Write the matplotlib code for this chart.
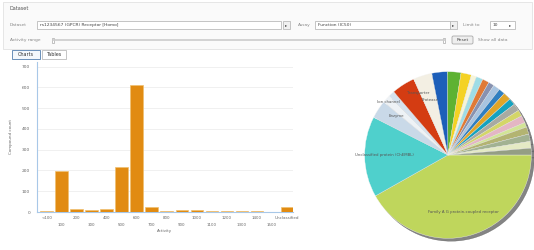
import matplotlib
matplotlib.use("Agg")
import matplotlib.pyplot as plt
from matplotlib.patches import Rectangle, FancyBboxPatch

# ---------------- data ----------------
bar_categories = ['<100', '100', '200', '300', '400', '500', '600', '700', '800',
                  '900', '1000', '1100', '1200', '1300', '1400', '1500', 'Unclassified']
bar_values = [5, 195, 15, 8, 13, 218, 613, 25, 5, 12, 8, 6, 3, 3, 3, 2, 25]
y_ticks = [0, 100, 200, 300, 400, 500, 600, 700]

pie_labels = ['Family A G protein-coupled receptor', 'Unclassified protein (ChEMBL)',
              'Enzyme', 'Ion channel', 'Transporter', 'Kinase', 'Protease',
              'Nuclear receptor', 'Cytochrome P450', 'Phosphodiesterase',
              'Other 1', 'Other 2', 'Other 3', 'Other 4', 'Other 5', 'Other 6',
              'Other 7', 'Other 8', 'Other 9', 'Other 10', 'Other 11', 'Other 12',
              'Other 13', 'Other 14', 'Other 15', 'Other 16']
pie_values = [41.5, 15.5, 3.5, 1.5, 1.2, 4.5, 3.6, 3.0, 2.6, 2.0,
              1.0, 1.3, 1.3, 1.1, 1.3, 1.2, 1.5, 1.3, 1.4, 1.2,
              1.4, 0.9, 1.4, 1.4, 1.3, 1.3]
pie_colors = ['#bfd65c', '#4fd0cc', '#c9d9e8', '#eef2f6', '#d6e2ee', '#d43c12',
              '#f3efe3', '#1d5fb9', '#5eb232', '#f4d224',
              '#f6f4d8', '#9edde6', '#e07a35', '#8892b0', '#a8c4e0', '#2f7fc0',
              '#e0a528', '#14a2bf', '#a8aaa2', '#d4d668', '#e4b6c4', '#d2e496',
              '#b3b472', '#a2b292', '#e4eac4', '#949e84']

W, H = 534, 250
fig = plt.figure(figsize=(W / 100, H / 100), dpi=100)
fig.patch.set_facecolor('white')

# overlay axes in pixel coords for the UI chrome
ui = fig.add_axes([0, 0, 1, 1], zorder=0)
ui.set_xlim(0, W)
ui.set_ylim(H, 0)
ui.axis('off')

fs = 3.2
txtc = '#555555'

# panel
ui.add_patch(Rectangle((3, 2), 529, 47, facecolor='#fafafa', edgecolor='#e2e2e2', lw=0.6))
ui.text(10, 9, 'Dataset', fontsize=fs + 0.4, color=txtc, va='center')
# row 1
ui.text(10, 25, 'Dataset', fontsize=fs, color='#888888', va='center')
ui.add_patch(Rectangle((37, 21), 244, 8, facecolor='white', edgecolor='#bbbbbb', lw=0.6))
ui.text(40, 25, 'rs1234567 (GPCR) Receptor [Homo]', fontsize=fs, color='#444444', va='center')
ui.add_patch(Rectangle((283, 21), 7, 8, facecolor='#f0f0f0', edgecolor='#bbbbbb', lw=0.6))
ui.text(286.5, 25, '▸', fontsize=fs, color='#444444', va='center', ha='center')
ui.text(298, 25, 'Assay', fontsize=fs, color='#888888', va='center')
ui.add_patch(Rectangle((315, 21), 135, 8, facecolor='white', edgecolor='#bbbbbb', lw=0.6))
ui.text(318, 25, 'Function (IC50)', fontsize=fs, color='#444444', va='center')
ui.add_patch(Rectangle((450, 21), 7, 8, facecolor='#f0f0f0', edgecolor='#bbbbbb', lw=0.6))
ui.text(453.5, 25, '▸', fontsize=fs, color='#444444', va='center', ha='center')
ui.text(463, 25, 'Limit to', fontsize=fs, color='#888888', va='center')
ui.add_patch(Rectangle((490, 21), 25, 8, facecolor='white', edgecolor='#bbbbbb', lw=0.6))
ui.text(493, 25, '10', fontsize=fs, color='#444444', va='center')
ui.text(510, 25, '▸', fontsize=fs, color='#444444', va='center', ha='center')
# row 2
ui.text(10, 40, 'Activity range', fontsize=fs, color='#888888', va='center')
ui.plot([53, 445], [40, 40], color='#cccccc', lw=1.2, solid_capstyle='round')
ui.add_patch(Rectangle((52, 37.5), 2, 5, facecolor='white', edgecolor='#aaaaaa', lw=0.5))
ui.add_patch(Rectangle((443, 37.5), 2, 5, facecolor='white', edgecolor='#aaaaaa', lw=0.5))
ui.add_patch(FancyBboxPatch((452, 36), 21, 8, boxstyle='round,pad=0,rounding_size=1.5',
                            facecolor='#eeeeee', edgecolor='#aaaaaa', lw=0.6))
ui.text(462.5, 40, 'Reset', fontsize=fs, color='#444444', va='center', ha='center')
ui.text(478, 40, 'Show all data', fontsize=fs, color='#888888', va='center')
# tabs
ui.add_patch(Rectangle((12, 50), 28, 9, facecolor='#f4f8fc', edgecolor='#6a8fb8', lw=0.7))
ui.text(26, 54.5, 'Charts', fontsize=fs + 0.3, color='#333333', va='center', ha='center')
ui.add_patch(Rectangle((42, 50), 24, 9, facecolor='white', edgecolor='#bbbbbb', lw=0.6))
ui.text(54, 54.5, 'Tables', fontsize=fs + 0.3, color='#333333', va='center', ha='center')

# ---------------- bar chart ----------------
bl, br, bb, bt = 37, 293, 212, 62
axb = fig.add_axes([bl / W, (H - bb) / H, (br - bl) / W, (bb - bt) / H], zorder=2)
x = list(range(len(bar_values)))
axb.bar(x, bar_values, width=0.85, color='#e18b12', edgecolor='#f0c070', linewidth=0.5, zorder=3)
axb.set_xlim(-0.65, 16.4)
axb.set_ylim(0, 722)
axb.set_yticks(y_ticks)
axb.set_yticklabels([str(v) for v in y_ticks], fontsize=fs, color='#666666')
axb.grid(axis='y', color='#eeeeee', lw=0.6, zorder=0)
axb.set_axisbelow(True)
for s in ['top', 'right']:
    axb.spines[s].set_visible(False)
for s in ['left', 'bottom']:
    axb.spines[s].set_color('#a8c8e8')
    axb.spines[s].set_linewidth(0.8)
axb.tick_params(axis='y', length=0, pad=5)
axb.set_xticks(x)
axb.set_xticklabels(['' for _ in x])
axb.tick_params(axis='x', length=0)
for i, lab in enumerate(bar_categories):
    yrow = -0.025 if i % 2 == 0 else -0.07
    axb.text(i, yrow, lab, transform=axb.get_xaxis_transform(), fontsize=fs - 0.3,
             color='#666666', ha='center', va='top')
axb.text(0.5, -0.115, 'Activity', transform=axb.transAxes, fontsize=fs - 0.3,
         color='#666666', ha='center', va='top')
axb.set_ylabel('Compound count', fontsize=fs - 0.3, color='#666666', labelpad=6)

# ---------------- pie chart ----------------
cx, cy, r = 448, 155, 85
axp = fig.add_axes([(cx - r) / W, (H - cy - r) / H, 2 * r / W, 2 * r / H], zorder=2)
axp.pie(pie_values, colors=pie_colors, startangle=0, counterclock=False,
        wedgeprops=dict(edgecolor='#f4f4f4', linewidth=0.25),
        shadow=dict(ox=0.025, oy=-0.025, color='#333333', alpha=0.6))
axp.set_xlim(-1.02, 1.02)
axp.set_ylim(-1.02, 1.02)
axp.set_aspect('equal')
axp.axis('off')
pfs = 2.8
pc = '#555555'
axp.text(0.18, -0.68, pie_labels[0], fontsize=pfs, color=pc, ha='center', va='center')
axp.text(-0.76, 0.0, pie_labels[1], fontsize=pfs, color=pc, ha='center', va='center')
axp.text(-0.62, 0.47, pie_labels[2], fontsize=pfs, color=pc, ha='center', va='center')
axp.text(-0.72, 0.63, pie_labels[3], fontsize=pfs, color=pc, ha='center', va='center')
axp.text(-0.36, 0.74, pie_labels[4], fontsize=pfs, color=pc, ha='center', va='center')
axp.text(-0.22, 0.66, pie_labels[6], fontsize=pfs, color=pc, ha='center', va='center')

fig.savefig('out.png', dpi=100, facecolor='white')
